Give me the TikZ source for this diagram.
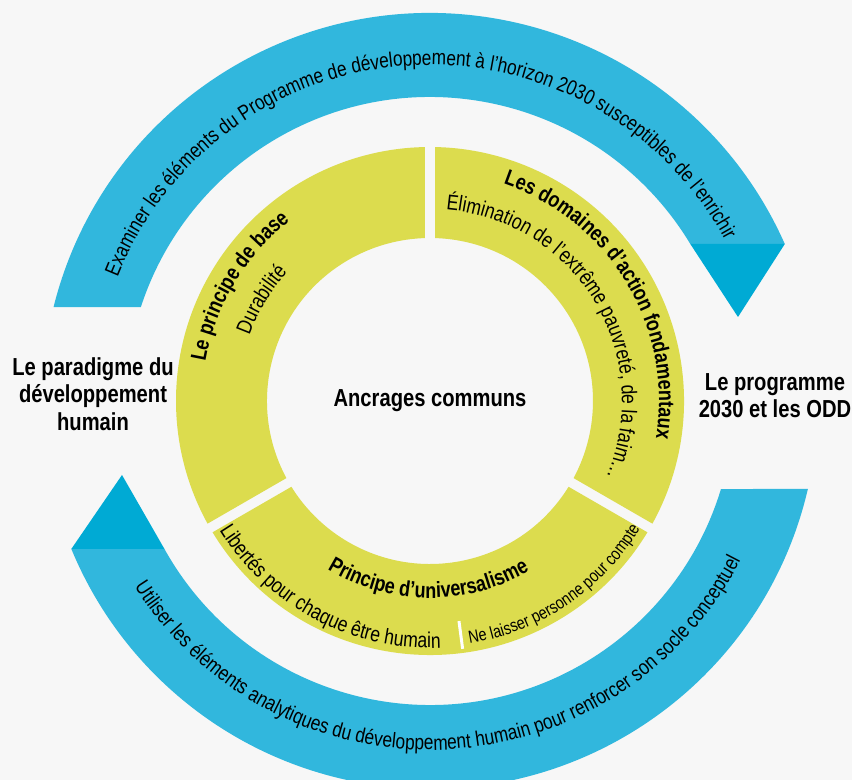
\documentclass[tikz,border=0pt]{standalone}
\usepackage{fontspec}
\setmainfont{Liberation Sans}[FakeStretch=0.82]
\usetikzlibrary{decorations.text}

\definecolor{bgcol}{HTML}{F7F7F7}
\definecolor{ringyellow}{HTML}{DCDC4E}
\definecolor{arcblue}{HTML}{31B7DD}
\definecolor{tipblue}{HTML}{00AAD4}

% fonts
\newcommand{\arcfont}{\fontsize{12}{14}\selectfont}
\newcommand{\headfont}{\fontsize{12.5}{15}\selectfont\bfseries}
\newcommand{\subfont}{\fontsize{12.2}{14}\selectfont}
\newcommand{\smallfont}{\fontsize{10}{12}\selectfont}

% ring part between two angles, gap of 5 units on each side
\newcommand{\ringpart}[2]{%
\fill[ringyellow] ({#1+1.13}:254) arc[start angle={#1+1.13}, end angle={#2-1.13}, radius=254]
  -- ({#2-1.76}:163) arc[start angle={#2-1.76}, end angle={#1+1.76}, radius=163] -- cycle;}

\tikzset{
  curvtxt/.style={decorate, decoration={text along path, text align=center, text={#1}}},
  sidelabel/.style={align=center, font=\fontsize{14}{15.5}\selectfont\bfseries, inner sep=0pt},
}

\begin{document}
\begin{tikzpicture}[x=0.02cm, y=0.02cm]
%background
\useasboundingbox (-430,-379) rectangle (422,401);
\clip (-430,-379) rectangle (422,401);
\fill[bgcol] (-430,-379) rectangle (422,401);

%blue arcs
%top
\fill[arcblue] (165.98:388) arc[start angle=165.98, end angle=23.87, radius=388]
  -- (31.10:304) arc[start angle=31.10, end angle=161.99, radius=304] -- cycle;
\fill[tipblue] (31.10:304) -- (23.87:388) -- (308,84) -- cycle;%tip
%bottom
\fill[arcblue] (-13.11:388) arc[start angle=-13.11, end angle=-157.58, radius=388]
  -- (-150.87:304) arc[start angle=-150.87, end angle=-16.83, radius=304] -- cycle;
\fill[tipblue] (-157.58:388) -- (-150.87:304) -- (-308,-74) -- cycle;%tip

%ring
\ringpart{90}{210}
\ringpart{210}{330}
\ringpart{-30}{90}
\draw[white, line width=1.7pt] (277.5:222) -- (277.5:250);%separator

%texts on blue arcs
\path[curvtxt={|\arcfont|Examiner les éléments du Programme de développement à l’horizon 2030 susceptibles de l’enrichir}]
  (183.5:336) arc[start angle=183.5, end angle=3.5, radius=336];
\path[curvtxt={|\arcfont|Utiliser les éléments analytiques du développement humain pour renforcer son socle conceptuel}]
  (182.5:349) arc[start angle=182.5, end angle=362.5, radius=349];

%texts on ring
\path[curvtxt={|\headfont|Le principe de base}] (204:228) arc[start angle=204, end angle=94, radius=228];
\path[curvtxt={|\subfont|Durabilité}] (204:192) arc[start angle=204, end angle=94, radius=192];
\path[curvtxt={|\headfont|Les domaines d’action fondamentaux}] (101:229) arc[start angle=101, end angle=-39, radius=229];
\path[curvtxt={|\subfont|Élimination de l’extrême pauvreté, de la faim…}] (111:192) arc[start angle=111, end angle=-49, radius=192];
\path[curvtxt={|\headfont|Principe d’universalisme}] (209.5:197) arc[start angle=209.5, end angle=329.5, radius=197];
\path[curvtxt={|\subfont|Libertés pour chaque être humain}] (182:247) arc[start angle=182, end angle=302, radius=247];
\path[curvtxt={|\smallfont|Ne laisser personne pour compte}] (254:246) arc[start angle=254, end angle=354, radius=246];

%labels
\node[font=\fontsize{14}{16}\selectfont\bfseries] (ancrages) at (0,0) {Ancrages communs};
\node[sidelabel] (paradigme) at (-337,7) {Le paradigme du\\développement\\humain};
\node[sidelabel] (programme) at (345,5) {Le programme\\2030 et les ODD};
\end{tikzpicture}
\end{document}
